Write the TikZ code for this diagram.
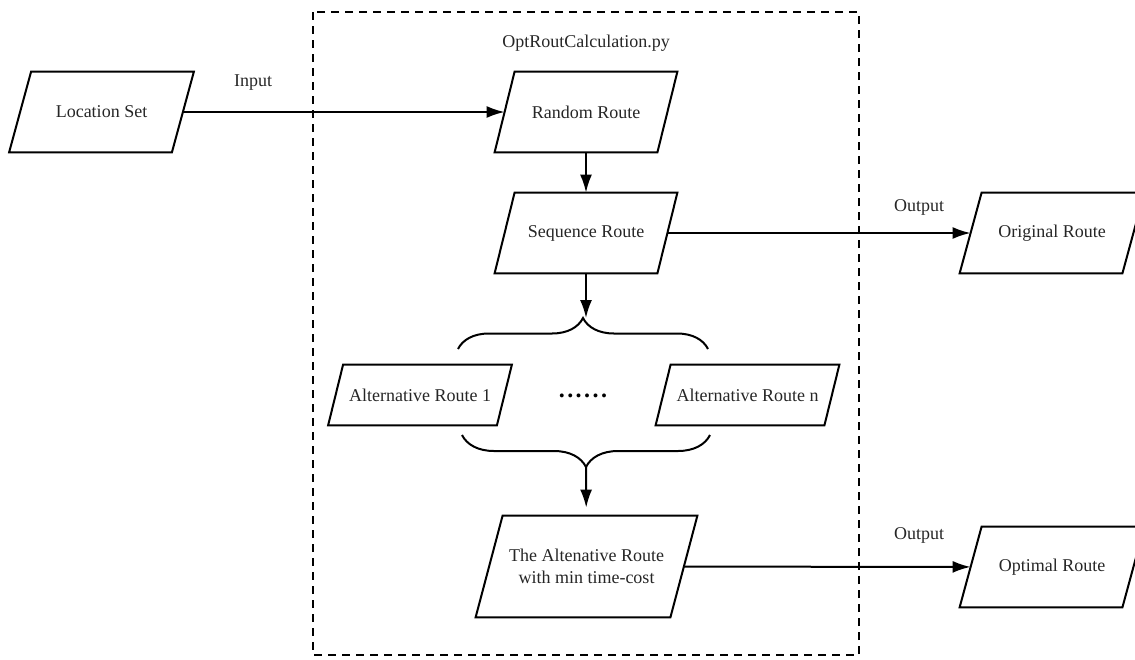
\documentclass[tikz,border=0pt]{standalone}
\usepackage{fontspec}
\setmainfont{Liberation Serif}
\usetikzlibrary{arrows.meta}
\usetikzlibrary{decorations.pathreplacing}

\tikzset{
    routebox/.style={rectangle, inner sep=0pt, minimum width=81pt, minimum height=40pt,
        align=center, font=\fontsize{9pt}{11pt}\selectfont, text=black!85},
    flow/.style={line width=1pt, -{Latex[length=9pt,width=6pt]}},
    flowtag/.style={font=\fontsize{9pt}{11pt}\selectfont, text=black!85},
    bracket/.style={line width=1pt, decorate, decoration={brace, amplitude=#1}},
}

\begin{document}
\begin{tikzpicture}[x=0.5pt, y=-0.5pt]
    \useasboundingbox (0, 0) rectangle (1135, 659);

    % Module frame
    \draw[line width=0.8pt, dash pattern=on 4pt off 3pt] (313, 12) rectangle (859, 655);
    \node[flowtag] (module) at (586, 43) {OptRoutCalculation.py};

    % Routes
    \node[routebox] (locset) at (101.5, 112) {Location Set};
    \node[routebox] (random) at (586, 112) {Random Route};
    \node[routebox] (sequence) at (586, 233) {Sequence Route};
    \node[routebox] (original) at (1052, 233) {Original Route};
    \node[routebox, minimum width=84pt, minimum height=30pt] (alt1) at (420, 395) {Alternative Route 1};
    \node[flowtag, font=\fontsize{12pt}{14pt}\selectfont\bfseries, text=black] (dots) at (583, 396)
        {.\hspace{1.25pt}.\hspace{1.25pt}.\hspace{1.25pt}.\hspace{1.25pt}.\hspace{1.25pt}.};
    \node[routebox, minimum width=84pt, minimum height=30pt] (altn) at (747.5, 395) {Alternative Route n};
    \node[routebox, minimum width=97pt, minimum height=50.5pt] (best) at (586.5, 566.5)
        {The Altenative Route\\with min time-cost};
    \node[routebox] (optimal) at (1052, 567) {Optimal Route};

    % Parallelogram outlines
    \foreach \rname/\slant in {locset/5.5pt, random/5pt, sequence/5pt, original/5.5pt,
            alt1/3.75pt, altn/3.75pt, best/6.75pt, optimal/5.5pt} {
        \draw[line width=1pt] ([xshift=-\slant]\rname.south west) -- ([xshift=\slant]\rname.north west)
            -- ([xshift=\slant]\rname.north east) -- ([xshift=-\slant]\rname.south east) -- cycle;
    }

    % Braces
    \coordinate (fanout) at (586, 318);
    \coordinate (fanin) at (586, 467);
    \draw[bracket=15.5pt] (458, 349) -- (708, 349);
    \draw[bracket=16pt] (710, 435) -- (462, 435);

    % Flow
    \draw[flow] (locset) -- (random);
    \node[flowtag] (input) at (253, 83) {Input};
    \draw[flow] (random) -- (sequence);
    \draw[flow] (sequence) -- (original);
    \node[flowtag] (out1) at (919, 207) {Output};
    \draw[flow] (sequence) -- (fanout);
    \draw[flow, shorten >=4pt] (fanin) -- (best);
    \draw[flow] (best) -- (optimal);
    \node[flowtag] (out2) at (919, 535) {Output};
\end{tikzpicture}
\end{document}
